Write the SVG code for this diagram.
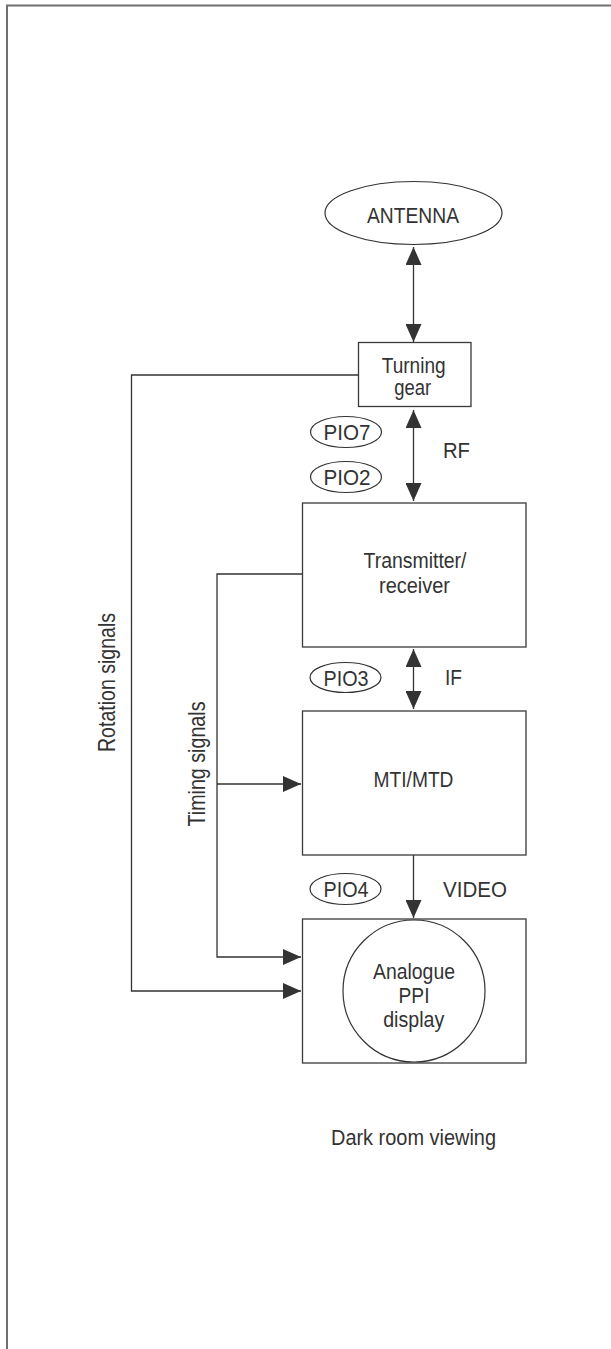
<svg xmlns="http://www.w3.org/2000/svg" width="611" height="1349" viewBox="0 0 611 1349">
<style>
.bg{fill:#fff}
.frame{fill:none;stroke:#6e6e6e;stroke-width:2}
.box{fill:#fff;stroke:#3a3a3a;stroke-width:1.3}
.ell{fill:#fff;stroke:#333;stroke-width:1.2}
.ln{fill:none;stroke:#333;stroke-width:1.3}
.t{font-family:"Liberation Sans",Arial,sans-serif;font-size:22.5px;fill:#333;text-anchor:middle}
.l{font-family:"Liberation Sans",Arial,sans-serif;font-size:22.5px;fill:#333}
.p{font-family:"Liberation Sans",Arial,sans-serif;font-size:22.5px;fill:#333;text-anchor:middle}
.r{font-family:"Liberation Sans",Arial,sans-serif;font-size:24px;fill:#333;text-anchor:middle}
</style>
<defs>
<marker id="ah" viewBox="0 0 18 16" refX="18" refY="8" markerWidth="18" markerHeight="16" markerUnits="userSpaceOnUse" orient="auto-start-reverse">
<path d="M0,0 L18,8 L0,16 z" fill="#333"/>
</marker>
</defs>
<rect class="bg" x="0" y="0" width="611" height="1349"/>
<path class="frame" d="M7,1349 V5.5 H611"/>

<g id="connectors">
<line class="ln" x1="413.5" y1="247" x2="413.5" y2="342" marker-start="url(#ah)" marker-end="url(#ah)"/>
<line class="ln" x1="413.5" y1="410" x2="413.5" y2="501" marker-start="url(#ah)" marker-end="url(#ah)"/>
<line class="ln" x1="413.5" y1="649" x2="413.5" y2="709" marker-start="url(#ah)" marker-end="url(#ah)"/>
<line class="ln" x1="413.5" y1="855" x2="413.5" y2="918" marker-end="url(#ah)"/>
<path class="ln" d="M358,375 H131.5 V991 H301" marker-end="url(#ah)"/>
<path class="ln" d="M302,574 H217 V957 H301" marker-end="url(#ah)"/>
<path class="ln" d="M217,784 H301" marker-end="url(#ah)"/>
<text class="r" transform="translate(115,682.5) rotate(-90)" x="0" y="0" textLength="139" lengthAdjust="spacingAndGlyphs">Rotation signals</text>
<text class="r" transform="translate(205,764) rotate(-90)" x="0" y="0" textLength="125" lengthAdjust="spacingAndGlyphs">Timing signals</text>
<text class="l" x="443" y="458" textLength="27" lengthAdjust="spacingAndGlyphs">RF</text>
<text class="l" x="445" y="685" textLength="17" lengthAdjust="spacingAndGlyphs">IF</text>
<text class="l" x="443" y="897" textLength="64" lengthAdjust="spacingAndGlyphs">VIDEO</text>
</g>

<g id="antenna">
<ellipse class="ell" cx="413.5" cy="213" rx="88.5" ry="31.5"/>
<text class="t" x="413" y="222.5" textLength="92" lengthAdjust="spacingAndGlyphs">ANTENNA</text>
</g>

<g id="turning-gear">
<rect class="box" x="358.5" y="342.5" width="112.5" height="64"/>
<text class="t" x="413.7" y="372.5" textLength="64" lengthAdjust="spacingAndGlyphs">Turning</text>
<text class="t" x="412.7" y="395" textLength="37" lengthAdjust="spacingAndGlyphs">gear</text>
</g>

<g id="pio7">
<ellipse class="ell" cx="346" cy="432" rx="35.5" ry="15.5"/>
<text class="p" x="347" y="440" textLength="47" lengthAdjust="spacingAndGlyphs">PIO7</text>
</g>
<g id="pio2">
<ellipse class="ell" cx="346" cy="477" rx="35.5" ry="15.5"/>
<text class="p" x="347" y="485" textLength="47" lengthAdjust="spacingAndGlyphs">PIO2</text>
</g>

<g id="transmitter-receiver">
<rect class="box" x="302.5" y="503" width="223.5" height="144"/>
<text class="t" x="415" y="568" textLength="103" lengthAdjust="spacingAndGlyphs">Transmitter/</text>
<text class="t" x="414.5" y="593" textLength="71" lengthAdjust="spacingAndGlyphs">receiver</text>
</g>

<g id="pio3">
<ellipse class="ell" cx="345.5" cy="677.5" rx="35.5" ry="15"/>
<text class="p" x="346" y="685.5" textLength="45" lengthAdjust="spacingAndGlyphs">PIO3</text>
</g>

<g id="mti-mtd">
<rect class="box" x="302.5" y="711" width="223.5" height="144"/>
<text class="t" x="413.5" y="786.5" textLength="80" lengthAdjust="spacingAndGlyphs">MTI/MTD</text>
</g>

<g id="pio4">
<ellipse class="ell" cx="345.5" cy="889" rx="35.5" ry="15.5"/>
<text class="p" x="346" y="897" textLength="45" lengthAdjust="spacingAndGlyphs">PIO4</text>
</g>

<g id="display">
<rect class="box" x="302.5" y="919" width="223.5" height="144"/>
<circle class="ell" cx="414" cy="991" r="71"/>
<text class="t" x="414" y="979" textLength="82" lengthAdjust="spacingAndGlyphs">Analogue</text>
<text class="t" x="414" y="1002.5" textLength="31" lengthAdjust="spacingAndGlyphs">PPI</text>
<text class="t" x="413.7" y="1026.5" textLength="61" lengthAdjust="spacingAndGlyphs">display</text>
</g>

<g id="caption">
<text class="t" x="413.5" y="1145" textLength="165" lengthAdjust="spacingAndGlyphs">Dark room viewing</text>
</g>
</svg>
